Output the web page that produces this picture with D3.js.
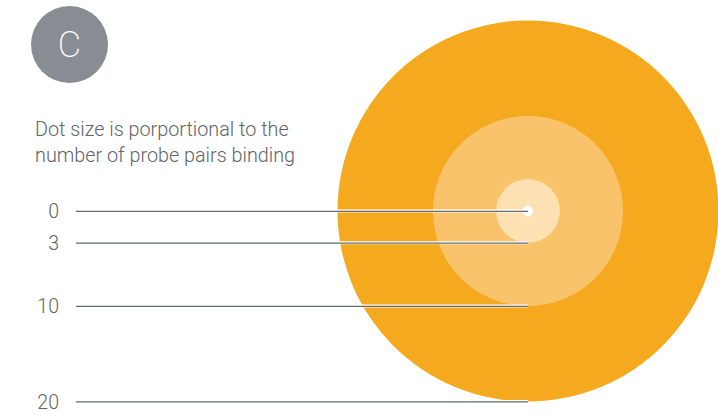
<!DOCTYPE html>
<html>
<head>
<meta charset="utf-8">
<script src="https://cdn.jsdelivr.net/npm/d3@7"></script>
<style>
  body { margin: 0; background: #fff; }
  text { font-family: Roboto, "Open Sans", sans-serif; font-weight: 300; }
</style>
</head>
<body>
<svg id="chart" width="718" height="418"></svg>
<script>
// legend values (probe pairs binding) and their fill colours
var sizeValues = [20, 10, 3, 0];
var sizeColors = ["#f5a91f", "#f9c36b", "#fde1b3", "#ffffff"];
var tickLabels = ["0", "3", "10", "20"];
var panelLetter = "C";
var captionLines = ["Dot size is porportional to the", "number of probe pairs binding"];

var width = 718, height = 418;
var svg = d3.select("#chart");

var cx = 528, cy = 211;

// radius scale
var r = d3.scaleLinear().domain([0, 3, 10, 20]).range([5.2, 31.8, 95, 190.5]);

// panel badge
svg.append("circle")
    .attr("cx", 69.5)
    .attr("cy", 44.5)
    .attr("r", 38.5)
    .attr("fill", "#878d93");
svg.append("text")
    .attr("x", 69.5)
    .attr("y", 44.5)
    .attr("dy", "0.36em")
    .attr("text-anchor", "middle")
    .attr("fill", "#fff")
    .style("font-size", "36px")
    .style("font-weight", "200")
    .text(panelLetter);

// caption
svg.selectAll(".caption")
    .data(captionLines)
    .enter().append("text")
    .attr("class", "caption")
    .attr("x", 35)
    .attr("y", function(d, i) { return 136 + i * 26; })
    .attr("fill", "#5f6368")
    .style("font-size", "19.8px")
    .text(function(d) { return d; });

// nested circles, largest first
svg.selectAll(".dot")
    .data(sizeValues)
    .enter().append("circle")
    .attr("class", "dot")
    .attr("cx", cx)
    .attr("cy", cy)
    .attr("r", function(d) { return r(d); })
    .attr("fill", function(d, i) { return sizeColors[i]; });

// leader lines to the bottom of each circle
var legend = sizeValues.slice().reverse();
var rows = svg.selectAll(".row")
    .data(legend)
    .enter().append("g")
    .attr("class", "row");

function rowY(d) { return d == 0 ? cy : cy + r(d); }

rows.append("line")
    .attr("x1", 76)
    .attr("x2", cx)
    .attr("y1", rowY)
    .attr("y2", rowY)
    .attr("stroke", "#fff")
    .attr("stroke-width", 3);

rows.append("line")
    .attr("x1", 76)
    .attr("x2", cx)
    .attr("y1", function(d) { return rowY(d) + 0.3; })
    .attr("y2", function(d) { return rowY(d) + 0.3; })
    .attr("stroke", "#666a6e")
    .attr("stroke-width", 1.2);

rows.append("text")
    .attr("x", 59)
    .attr("y", rowY)
    .attr("dy", "0.36em")
    .attr("text-anchor", "end")
    .attr("fill", "#5f6368")
    .style("font-size", "19.5px")
    .text(function(d, i) { return tickLabels[i]; });
</script>
</body>
</html>
